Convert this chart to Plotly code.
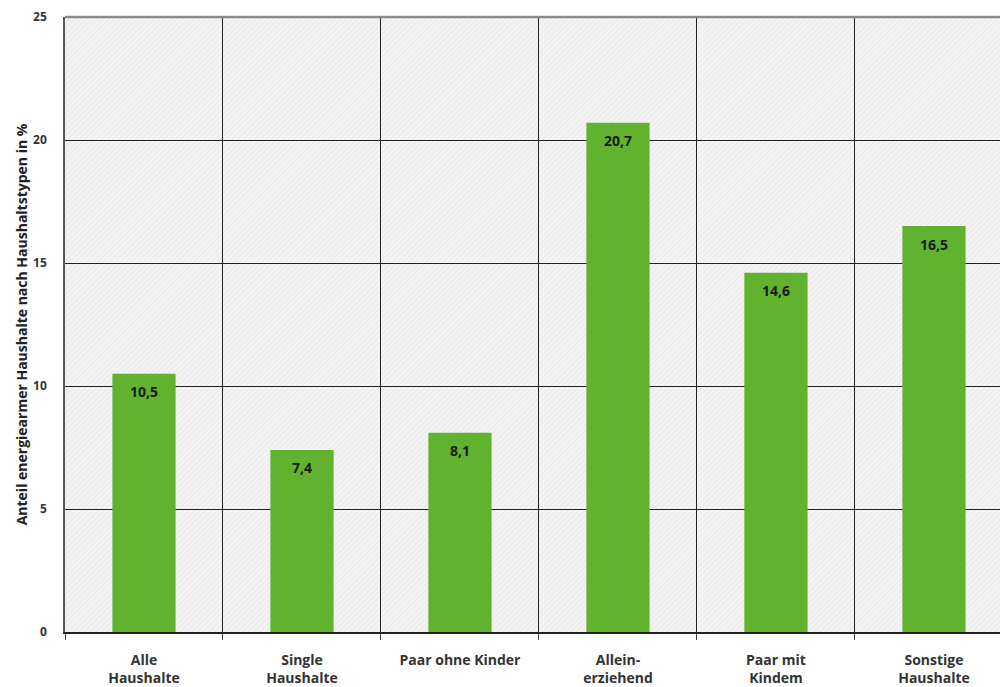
import base64
import plotly.graph_objects as go

# Anteil energiearmer Haushalte nach Haushaltstypen (in %)
categories = [
    "Alle<br>Haushalte",
    "Single<br>Haushalte",
    "Paar ohne Kinder",
    "Allein-<br>erziehend",
    "Paar mit<br>Kindem",
    "Sonstige<br>Haushalte",
]
values = [10.5, 7.4, 8.1, 20.7, 14.6, 16.5]
value_labels = ["10,5", "7,4", "8,1", "20,7", "14,6", "16,5"]
y_ticks = [0, 5, 10, 15, 20, 25]

FONT = "Open Sans"
GREEN = "#60b22f"

x_pos = list(range(len(categories)))

# fine diagonal hatching for the plotting area
svg = (
    '<svg xmlns="http://www.w3.org/2000/svg" width="935" height="615">'
    '<defs><pattern id="h" width="4" height="4" patternUnits="userSpaceOnUse" '
    'patternTransform="rotate(45)">'
    '<rect width="4" height="4" fill="#f3f3f3"/>'
    '<line x1="0" y1="0" x2="0" y2="4" stroke="#e5e5e5" stroke-width="1.4"/>'
    '</pattern></defs>'
    '<rect width="935" height="615" fill="url(#h)"/></svg>'
)
hatch_src = "data:image/svg+xml;base64," + base64.b64encode(svg.encode()).decode()

fig = go.Figure(
    go.Bar(
        x=x_pos,
        y=values,
        width=0.4,
        marker=dict(color=GREEN, line=dict(width=0)),
        hoverinfo="skip",
    )
)

# value labels just below the top of each bar
annotations = [
    dict(
        x=x, y=v, text=lbl, xref="x", yref="y",
        showarrow=False, yanchor="middle", yshift=-18,
        font=dict(family=FONT, size=14, color="#1a1a1a", weight="bold"),
    )
    for x, v, lbl in zip(x_pos, values, value_labels)
]

fig.update_layout(
    width=1000,
    height=687,
    margin=dict(l=65, r=0, t=17, b=55),
    paper_bgcolor="white",
    plot_bgcolor="#f1f1f1",
    showlegend=False,
    annotations=annotations,
    images=[
        dict(
            source=hatch_src,
            xref="paper", yref="paper",
            x=0, y=1, sizex=1, sizey=1,
            xanchor="left", yanchor="top",
            sizing="stretch", layer="below",
        )
    ],
    shapes=[
        dict(
            type="line", xref="paper", yref="paper",
            x0=0, x1=1, y0=1, y1=1,
            line=dict(color="#8a8a8a", width=2.5),
        )
    ],
)

fig.update_xaxes(
    range=[-0.5, 5.418],
    tickmode="array",
    tickvals=x_pos,
    ticktext=categories,
    ticks="",
    ticklabelstandoff=14,
    showgrid=False,
    showline=True,
    linecolor="#222222",
    linewidth=1.5,
    zeroline=False,
    tickfont=dict(family=FONT, size=14, color="#333333", weight="bold"),
    minor=dict(
        tick0=0.5, dtick=1,
        showgrid=True, gridcolor="#222222", gridwidth=1,
        ticks="outside", ticklen=6, tickcolor="#444444",
    ),
)

fig.update_yaxes(
    range=[0, 25],
    tickmode="array",
    tickvals=y_ticks,
    ticks="",
    showgrid=True,
    gridcolor="#222222",
    gridwidth=1,
    zeroline=False,
    showline=True,
    linecolor="#555555",
    linewidth=1.5,
    ticklabelstandoff=14,
    tickfont=dict(family=FONT, size=12, color="#333333", weight="bold"),
    title=dict(
        text="Anteil energiearmer Haushalte nach Haushaltstypen in %",
        font=dict(family=FONT, size=14, color="#222222", weight="bold"),
        standoff=2,
    ),
)

fig.write_html("out.html")
